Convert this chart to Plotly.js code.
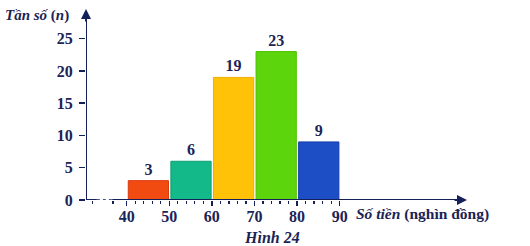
<!DOCTYPE html>
<html><head><meta charset="utf-8">
<script src="https://cdn.plot.ly/plotly-3.0.1.min.js"></script>
<style>html,body{margin:0;padding:0;background:#fff}#c{width:530px;height:246px}</style>
</head><body><div id="c"></div>
<script>
const binStarts = [40, 50, 60, 70, 80];
const binWidth = 10;
const frequencies = [3, 6, 19, 23, 9];
const barColors = ['#F24B12', '#14B98A', '#FFC208', '#5CD50C', '#1D4EC6'];
const barEdges = ['#DA3A0C', '#0C9E72', '#F2AE00', '#4CC000', '#123CAA'];
const xTickVals = [40, 50, 60, 70, 80, 90];
const yTickVals = [0, 5, 10, 15, 20, 25];
const xTitle = '<b><i>Số tiền</i> (nghìn đồng)</b>';
const yTitle = '<b><i>Tần số</i> (<i>n</i>)</b>';
const caption = '<b><i>Hình 24</i></b>';

const navy = '#13205A';
const txt = '#1B2455';
const serif = 'Liberation Serif, DejaVu Serif, serif';
const fnt = {family: serif, size: 16, color: txt};

const minorVals = [];
for (let v = 42; v < 90; v += 2) if (v % 10 !== 0) minorVals.push(v);
minorVals.push(31.9, 36.8);

const trace = {
  type: 'bar',
  x: binStarts.map(s => s + binWidth / 2 + 0.1),
  y: frequencies,
  width: binStarts.map(() => binWidth - 0.55),
  marker: {color: barColors, line: {color: barEdges, width: 1}},
  text: frequencies.map(String),
  textposition: 'outside',
  textfont: {family: serif, size: 16, color: txt, weight: 'bold'},
  cliponaxis: false,
  hoverinfo: 'skip'
};

const X0 = 30.45, X1 = 119.9, Y1 = 29.6;
const layout = {
  width: 530, height: 246,
  margin: {l: 86, r: 63, t: 9, b: 46, pad: 0},
  paper_bgcolor: '#fff', plot_bgcolor: 'rgba(0,0,0,0)',
  showlegend: false,
  font: fnt,
  xaxis: {
    range: [X0, X1], showgrid: false, zeroline: false, showline: false,
    tickmode: 'array', tickvals: xTickVals, ticks: 'outside', ticklen: 5, tickwidth: 1.5, tickcolor: navy,
    ticklabelstandoff: -3,
    tickfont: {family: serif, size: 16, color: txt, weight: 'bold'},
    minor: {tickmode: 'array', tickvals: minorVals, ticks: 'outside', ticklen: 3, tickwidth: 1.2, tickcolor: navy},
    fixedrange: true
  },
  yaxis: {
    range: [0, Y1], showgrid: false, zeroline: false, showline: false,
    tickmode: 'array', tickvals: yTickVals, ticks: 'outside', ticklen: 6, tickwidth: 1.5, tickcolor: navy,
    ticklabelstandoff: 3,
    tickfont: {family: serif, size: 16, color: txt, weight: 'bold'},
    fixedrange: true
  },
  shapes: [
    {type: 'line', xref: 'x', yref: 'y', x0: X0, x1: 33.0, y0: 0, y1: 0, line: {color: navy, width: 2}},
    {type: 'line', xref: 'x', yref: 'y', x0: 33.0, x1: 36.6, y0: 0, y1: 0, line: {color: navy, width: 1.5, dash: 'dot'}},
    {type: 'line', xref: 'x', yref: 'y', x0: 36.6, x1: X1 - 1, y0: 0, y1: 0, line: {color: navy, width: 2}},
    {type: 'line', xref: 'x', yref: 'y', x0: X0, x1: X0, y0: 0, y1: Y1 - 0.5, line: {color: navy, width: 2}}
  ],
  annotations: [
    {xref: 'paper', yref: 'paper', x: 1, y: 0, ax: -14, ay: 0, text: '', showarrow: true,
     arrowhead: 2, arrowsize: 1, arrowwidth: 2, arrowcolor: navy},
    {xref: 'paper', yref: 'paper', x: 0, y: 1, ax: 0, ay: 14, text: '', showarrow: true,
     arrowhead: 2, arrowsize: 1, arrowwidth: 2, arrowcolor: navy},
    {xref: 'paper', yref: 'paper', x: -0.128, y: 0.968, text: yTitle, showarrow: false,
     xanchor: 'center', yanchor: 'middle', font: {family: serif, size: 15, color: txt}},
    {xref: 'paper', yref: 'paper', x: 0.703, y: -0.073, text: xTitle, showarrow: false,
     xanchor: 'left', yanchor: 'middle', font: {family: serif, size: 15.5, color: txt}},
    {xref: 'paper', yref: 'paper', x: 0.488, y: -0.198, text: caption, showarrow: false,
     xanchor: 'center', yanchor: 'middle', font: {family: serif, size: 16, color: txt}}
  ]
};

Plotly.newPlot('c', [trace], layout, {displayModeBar: false, staticPlot: true});
</script>
</body></html>
